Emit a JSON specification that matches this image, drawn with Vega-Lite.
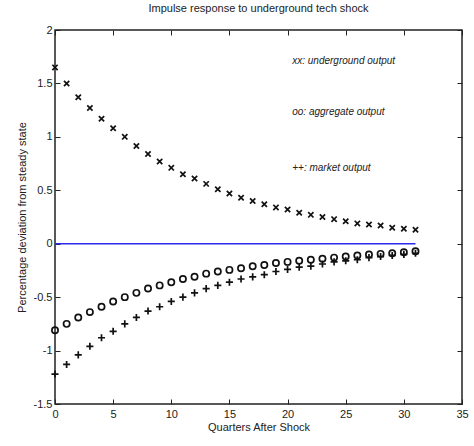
{
  "$schema": "https://vega.github.io/schema/vega-lite/v6.json",
  "width": 407,
  "height": 374,
  "autosize": {"type": "none"},
  "padding": {"left": 55, "top": 30, "right": 12, "bottom": 42},
  "background": "white",
  "title": {"text": "Impulse response to underground tech shock", "fontSize": 11, "font": "Liberation Sans", "fontWeight": "normal", "color": "#222", "offset": 10},
  "config": {
    "view": {"stroke": "#222", "strokeWidth": 1.5},
    "axis": {"grid": false, "domain": false, "tickColor": "#222", "tickWidth": 1, "tickSize": -5, "labelFont": "Liberation Sans", "labelFontSize": 11, "labelColor": "#222", "titleFont": "Liberation Sans", "titleFontSize": 11, "titleFontWeight": "normal", "titleColor": "#222"}
  },
  "datasets": {
    "series": [
      {"q":0,"series":"underground","value":1.65},{"q":1,"series":"underground","value":1.50},{"q":2,"series":"underground","value":1.37},{"q":3,"series":"underground","value":1.27},{"q":4,"series":"underground","value":1.17},{"q":5,"series":"underground","value":1.08},{"q":6,"series":"underground","value":1.00},{"q":7,"series":"underground","value":0.915},{"q":8,"series":"underground","value":0.84},{"q":9,"series":"underground","value":0.77},{"q":10,"series":"underground","value":0.71},{"q":11,"series":"underground","value":0.65},{"q":12,"series":"underground","value":0.61},{"q":13,"series":"underground","value":0.56},{"q":14,"series":"underground","value":0.51},{"q":15,"series":"underground","value":0.47},{"q":16,"series":"underground","value":0.43},{"q":17,"series":"underground","value":0.40},{"q":18,"series":"underground","value":0.37},{"q":19,"series":"underground","value":0.34},{"q":20,"series":"underground","value":0.32},{"q":21,"series":"underground","value":0.29},{"q":22,"series":"underground","value":0.27},{"q":23,"series":"underground","value":0.25},{"q":24,"series":"underground","value":0.23},{"q":25,"series":"underground","value":0.21},{"q":26,"series":"underground","value":0.19},{"q":27,"series":"underground","value":0.18},{"q":28,"series":"underground","value":0.17},{"q":29,"series":"underground","value":0.15},{"q":30,"series":"underground","value":0.14},{"q":31,"series":"underground","value":0.13},
      {"q":0,"series":"aggregate","value":-0.81},{"q":1,"series":"aggregate","value":-0.75},{"q":2,"series":"aggregate","value":-0.69},{"q":3,"series":"aggregate","value":-0.64},{"q":4,"series":"aggregate","value":-0.59},{"q":5,"series":"aggregate","value":-0.54},{"q":6,"series":"aggregate","value":-0.50},{"q":7,"series":"aggregate","value":-0.46},{"q":8,"series":"aggregate","value":-0.42},{"q":9,"series":"aggregate","value":-0.39},{"q":10,"series":"aggregate","value":-0.36},{"q":11,"series":"aggregate","value":-0.33},{"q":12,"series":"aggregate","value":-0.31},{"q":13,"series":"aggregate","value":-0.28},{"q":14,"series":"aggregate","value":-0.26},{"q":15,"series":"aggregate","value":-0.245},{"q":16,"series":"aggregate","value":-0.23},{"q":17,"series":"aggregate","value":-0.21},{"q":18,"series":"aggregate","value":-0.20},{"q":19,"series":"aggregate","value":-0.18},{"q":20,"series":"aggregate","value":-0.17},{"q":21,"series":"aggregate","value":-0.16},{"q":22,"series":"aggregate","value":-0.15},{"q":23,"series":"aggregate","value":-0.14},{"q":24,"series":"aggregate","value":-0.13},{"q":25,"series":"aggregate","value":-0.12},{"q":26,"series":"aggregate","value":-0.11},{"q":27,"series":"aggregate","value":-0.10},{"q":28,"series":"aggregate","value":-0.095},{"q":29,"series":"aggregate","value":-0.09},{"q":30,"series":"aggregate","value":-0.08},{"q":31,"series":"aggregate","value":-0.07},
      {"q":0,"series":"market","value":-1.22},{"q":1,"series":"market","value":-1.13},{"q":2,"series":"market","value":-1.04},{"q":3,"series":"market","value":-0.96},{"q":4,"series":"market","value":-0.88},{"q":5,"series":"market","value":-0.82},{"q":6,"series":"market","value":-0.75},{"q":7,"series":"market","value":-0.69},{"q":8,"series":"market","value":-0.63},{"q":9,"series":"market","value":-0.59},{"q":10,"series":"market","value":-0.54},{"q":11,"series":"market","value":-0.50},{"q":12,"series":"market","value":-0.46},{"q":13,"series":"market","value":-0.42},{"q":14,"series":"market","value":-0.39},{"q":15,"series":"market","value":-0.36},{"q":16,"series":"market","value":-0.33},{"q":17,"series":"market","value":-0.31},{"q":18,"series":"market","value":-0.29},{"q":19,"series":"market","value":-0.26},{"q":20,"series":"market","value":-0.24},{"q":21,"series":"market","value":-0.22},{"q":22,"series":"market","value":-0.21},{"q":23,"series":"market","value":-0.19},{"q":24,"series":"market","value":-0.17},{"q":25,"series":"market","value":-0.16},{"q":26,"series":"market","value":-0.15},{"q":27,"series":"market","value":-0.13},{"q":28,"series":"market","value":-0.12},{"q":29,"series":"market","value":-0.11},{"q":30,"series":"market","value":-0.10},{"q":31,"series":"market","value":-0.09}
    ],
    "zero": [{"q":0,"value":0},{"q":31,"value":0}]
  },
  "layer": [
    {
      "data": {"name": "zero"},
      "mark": {"type": "line", "color": "#2a2aee", "strokeWidth": 1.5},
      "encoding": {
        "x": {"field": "q", "type": "quantitative", "scale": {"domain": [0, 35], "nice": false, "zero": false},
              "axis": {"orient": "bottom", "values": [0,5,10,15,20,25,30,35], "title": "Quarters After Shock", "labelPadding": 9, "titlePadding": 2, "labelFlush": false, "labelExpr": "'' + datum.value"}},
        "y": {"field": "value", "type": "quantitative", "scale": {"domain": [-1.5, 2], "nice": false, "zero": false},
              "axis": {"orient": "left", "values": [-1.5,-1,-0.5,0,0.5,1,1.5,2], "title": "Percentage deviation from steady state", "labelPadding": 8, "titlePadding": 6, "labelFlush": false, "labelExpr": "'' + datum.value"}}
      }
    },
    {
      "data": {"name": "series"},
      "mark": {"type": "point", "filled": false, "stroke": "#111", "strokeWidth": 1.7, "opacity": 1},
      "encoding": {
        "x": {"field": "q", "type": "quantitative", "axis": null},
        "y": {"field": "value", "type": "quantitative", "axis": null},
        "shape": {"field": "series", "type": "nominal", "legend": null,
                  "scale": {"domain": ["underground", "aggregate", "market"], "range": ["M-1,-1L1,1M-1,1L1,-1", "circle", "M-1,0L1,0M0,-1L0,1"]}},
        "size": {"field": "series", "type": "nominal", "legend": null,
                 "scale": {"domain": ["underground", "aggregate", "market"], "range": [28, 50, 81]}}
      }
    },
    {
      "data": {"values": [{"note": "xx: underground output"}]},
      "mark": {"type": "text", "align": "left", "baseline": "middle", "font": "Liberation Sans", "fontStyle": "italic", "fontSize": 10, "color": "#222"},
      "encoding": {"x": {"datum": 20.4, "type": "quantitative", "axis": null}, "y": {"datum": 1.71, "type": "quantitative", "axis": null}, "text": {"field": "note"}}
    },
    {
      "data": {"values": [{"note": "oo: aggregate output"}]},
      "mark": {"type": "text", "align": "left", "baseline": "middle", "font": "Liberation Sans", "fontStyle": "italic", "fontSize": 10, "color": "#222"},
      "encoding": {"x": {"datum": 20.4, "type": "quantitative", "axis": null}, "y": {"datum": 1.23, "type": "quantitative", "axis": null}, "text": {"field": "note"}}
    },
    {
      "data": {"values": [{"note": "++: market output"}]},
      "mark": {"type": "text", "align": "left", "baseline": "middle", "font": "Liberation Sans", "fontStyle": "italic", "fontSize": 10, "color": "#222"},
      "encoding": {"x": {"datum": 20.4, "type": "quantitative", "axis": null}, "y": {"datum": 0.71, "type": "quantitative", "axis": null}, "text": {"field": "note"}}
    },
    {
      "data": {"name": "zero"},
      "mark": {"type": "point", "opacity": 0},
      "encoding": {
        "x": {"field": "q", "type": "quantitative", "axis": {"orient": "top", "values": [0,5,10,15,20,25,30,35], "labels": false, "title": null}},
        "y": {"field": "value", "type": "quantitative", "axis": {"orient": "right", "values": [-1.5,-1,-0.5,0,0.5,1,1.5,2], "labels": false, "title": null}}
      }
    }
  ],
  "resolve": {"axis": {"x": "independent", "y": "independent"}}
}
